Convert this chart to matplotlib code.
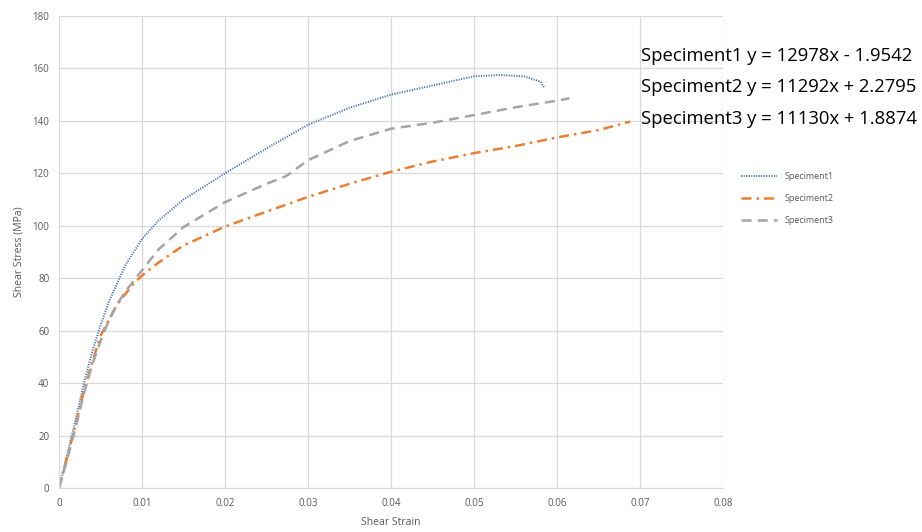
import matplotlib
matplotlib.use("Agg")
import matplotlib.pyplot as plt

plt.rcParams['font.family'] = ['Open Sans', 'DejaVu Sans']

s1_x = [0, 0.001, 0.002, 0.003, 0.004, 0.005, 0.006, 0.007, 0.008, 0.009, 0.010, 0.012,
        0.015, 0.020, 0.025, 0.030, 0.035, 0.040, 0.045, 0.050, 0.053, 0.056, 0.058, 0.0585]
s1_y = [0, 13, 26, 40, 52, 62, 71, 78, 85, 90, 95, 102,
        110, 120, 129.5, 138.5, 145, 150, 153.5, 157, 157.5, 157, 155, 152.5]

s2_x = [0, 0.001, 0.002, 0.003, 0.004, 0.005, 0.006, 0.007, 0.008, 0.009, 0.010, 0.012,
        0.015, 0.020, 0.025, 0.030, 0.035, 0.040, 0.045, 0.050, 0.055, 0.060, 0.065, 0.0688]
s2_y = [0, 12, 24, 37, 48, 58, 64, 70, 74, 78, 81, 86,
        92.5, 99.7, 105.4, 111, 116, 120.6, 124.5, 127.7, 130.4, 133.7, 136.5, 139.7]

s3_x = [0, 0.001, 0.002, 0.003, 0.004, 0.005, 0.006, 0.007, 0.008, 0.009, 0.010, 0.012,
        0.015, 0.020, 0.025, 0.0274, 0.030, 0.035, 0.040, 0.045, 0.050, 0.055, 0.060, 0.0615]
s3_y = [0, 11, 23, 36, 47, 56, 64, 70, 75, 79, 83, 91,
        99.5, 109, 116, 119, 125, 132.3, 137, 139.3, 142.2, 145.2, 147.7, 148.6]

labels = ["Speciment1", "Speciment2", "Speciment3"]
equations = ["Speciment1 y = 12978x - 1.9542",
             "Speciment2 y = 11292x + 2.2795",
             "Speciment3 y = 11130x + 1.8874"]
x_ticks = [0, 0.01, 0.02, 0.03, 0.04, 0.05, 0.06, 0.07, 0.08]
x_tick_labels = ["0", "0.01", "0.02", "0.03", "0.04", "0.05", "0.06", "0.07", "0.08"]
y_ticks = [0, 20, 40, 60, 80, 100, 120, 140, 160, 180]

fig = plt.figure(figsize=(9.22, 5.32), dpi=100)
ax = fig.add_axes([59/922, 44/532, (723-59)/922, (488-16)/532])

ax.plot(s1_x, s1_y, color='#4472C4', linestyle=(0, (0.6, 0.7)), linewidth=1.4, label=labels[0])
ax.plot(s2_x, s2_y, color='#ED7D31', linestyle=(0, (4, 2, 1, 2)), linewidth=1.8, label=labels[1])
ax.plot(s3_x, s3_y, color='#A5A5A5', linestyle=(0, (4, 2.5)), linewidth=1.8, label=labels[2])

ax.set_xlim(0, 0.08)
ax.set_ylim(0, 180)
ax.set_xticks(x_ticks)
ax.set_xticklabels(x_tick_labels)
ax.set_yticks(y_ticks)
ax.grid(True, color='#D9D9D9', linewidth=0.9)
ax.set_axisbelow(True)
for side in ['top', 'right']:
    ax.spines[side].set_visible(False)
for side in ['left', 'bottom']:
    ax.spines[side].set_color('#D9D9D9')
ax.tick_params(length=0, colors='#595959', labelsize=7, pad=7)
ax.set_xlabel("Shear Strain", color='#595959', fontsize=7.5, labelpad=6)
ax.set_ylabel("Shear Stress (MPa)", color='#595959', fontsize=7.5, labelpad=6)

leg = fig.legend(loc='upper left', bbox_to_anchor=(733/922, 1 - 164/532), frameon=False,
                 fontsize=6.5, labelcolor='#595959', handlelength=4, labelspacing=1.45)

for i, eq in enumerate(equations):
    fig.text(641/922, 1 - (56 + i*31.5)/532, eq, fontsize=13.3, va='center', ha='left', color='black')

fig.savefig("out.png", dpi=100)
